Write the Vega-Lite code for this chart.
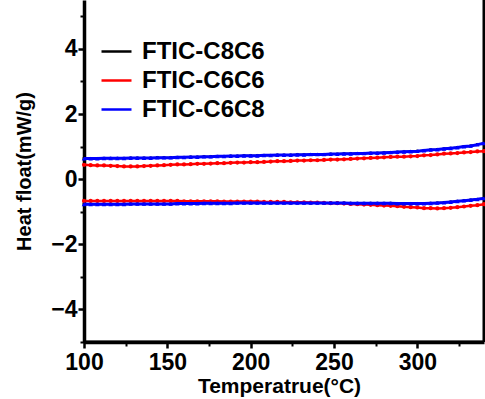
{
"$schema":"https://vega.github.io/schema/vega-lite/v6.json",
"width":400,"height":342,"autosize":"none",
"padding":{"left":84,"top":0,"right":1,"bottom":57},
"config":{"view":{"stroke":null},"axis":{"grid":false,"labelFlush":false,"domainColor":"black","domainWidth":3.5,"tickColor":"black","tickWidth":2.5,"tickSize":6,"labelFont":"Liberation Sans","labelFontWeight":"bold","labelFontSize":23,"labelColor":"black","titleFont":"Liberation Sans","titleFontWeight":"bold","titleFontSize":20,"titleColor":"black"}},
"resolve":{"axis":{"x":"independent","y":"independent"}},
"datasets":{"dsc":[
{"s":"FTIC-C8C6","x":100,"h":0.63,"c":-0.77},{"s":"FTIC-C8C6","x":104,"h":0.63,"c":-0.77},{"s":"FTIC-C8C6","x":108,"h":0.63,"c":-0.77},{"s":"FTIC-C8C6","x":112,"h":0.64,"c":-0.77},{"s":"FTIC-C8C6","x":116,"h":0.64,"c":-0.77},{"s":"FTIC-C8C6","x":120,"h":0.64,"c":-0.77},{"s":"FTIC-C8C6","x":124,"h":0.64,"c":-0.77},{"s":"FTIC-C8C6","x":128,"h":0.65,"c":-0.76},{"s":"FTIC-C8C6","x":132,"h":0.65,"c":-0.76},{"s":"FTIC-C8C6","x":136,"h":0.65,"c":-0.76},{"s":"FTIC-C8C6","x":140,"h":0.65,"c":-0.76},{"s":"FTIC-C8C6","x":144,"h":0.66,"c":-0.76},{"s":"FTIC-C8C6","x":148,"h":0.66,"c":-0.76},{"s":"FTIC-C8C6","x":152,"h":0.66,"c":-0.76},{"s":"FTIC-C8C6","x":156,"h":0.67,"c":-0.75},{"s":"FTIC-C8C6","x":160,"h":0.67,"c":-0.75},{"s":"FTIC-C8C6","x":164,"h":0.68,"c":-0.75},{"s":"FTIC-C8C6","x":168,"h":0.68,"c":-0.75},{"s":"FTIC-C8C6","x":172,"h":0.69,"c":-0.74},{"s":"FTIC-C8C6","x":176,"h":0.69,"c":-0.74},{"s":"FTIC-C8C6","x":180,"h":0.70,"c":-0.74},{"s":"FTIC-C8C6","x":184,"h":0.70,"c":-0.74},{"s":"FTIC-C8C6","x":188,"h":0.71,"c":-0.74},{"s":"FTIC-C8C6","x":192,"h":0.71,"c":-0.73},{"s":"FTIC-C8C6","x":196,"h":0.72,"c":-0.73},{"s":"FTIC-C8C6","x":200,"h":0.72,"c":-0.73},{"s":"FTIC-C8C6","x":204,"h":0.72,"c":-0.73},{"s":"FTIC-C8C6","x":208,"h":0.73,"c":-0.73},{"s":"FTIC-C8C6","x":212,"h":0.73,"c":-0.73},{"s":"FTIC-C8C6","x":216,"h":0.74,"c":-0.73},{"s":"FTIC-C8C6","x":220,"h":0.74,"c":-0.73},{"s":"FTIC-C8C6","x":224,"h":0.74,"c":-0.73},{"s":"FTIC-C8C6","x":228,"h":0.75,"c":-0.73},{"s":"FTIC-C8C6","x":232,"h":0.75,"c":-0.73},{"s":"FTIC-C8C6","x":236,"h":0.76,"c":-0.73},{"s":"FTIC-C8C6","x":240,"h":0.76,"c":-0.73},{"s":"FTIC-C8C6","x":244,"h":0.76,"c":-0.73},{"s":"FTIC-C8C6","x":248,"h":0.77,"c":-0.73},{"s":"FTIC-C8C6","x":252,"h":0.77,"c":-0.73},{"s":"FTIC-C8C6","x":256,"h":0.78,"c":-0.73},{"s":"FTIC-C8C6","x":260,"h":0.78,"c":-0.74},{"s":"FTIC-C8C6","x":264,"h":0.79,"c":-0.74},{"s":"FTIC-C8C6","x":268,"h":0.79,"c":-0.74},{"s":"FTIC-C8C6","x":272,"h":0.80,"c":-0.74},{"s":"FTIC-C8C6","x":276,"h":0.80,"c":-0.74},{"s":"FTIC-C8C6","x":280,"h":0.81,"c":-0.74},{"s":"FTIC-C8C6","x":284,"h":0.82,"c":-0.74},{"s":"FTIC-C8C6","x":288,"h":0.83,"c":-0.75},{"s":"FTIC-C8C6","x":292,"h":0.84,"c":-0.75},{"s":"FTIC-C8C6","x":296,"h":0.85,"c":-0.75},{"s":"FTIC-C8C6","x":300,"h":0.86,"c":-0.75},{"s":"FTIC-C8C6","x":304,"h":0.88,"c":-0.75},{"s":"FTIC-C8C6","x":308,"h":0.90,"c":-0.74},{"s":"FTIC-C8C6","x":312,"h":0.91,"c":-0.73},{"s":"FTIC-C8C6","x":316,"h":0.93,"c":-0.72},{"s":"FTIC-C8C6","x":320,"h":0.95,"c":-0.70},{"s":"FTIC-C8C6","x":324,"h":0.97,"c":-0.68},{"s":"FTIC-C8C6","x":328,"h":1.00,"c":-0.66},{"s":"FTIC-C8C6","x":332,"h":1.02,"c":-0.64},{"s":"FTIC-C8C6","x":336,"h":1.06,"c":-0.62},{"s":"FTIC-C8C6","x":340,"h":1.10,"c":-0.59},
{"s":"FTIC-C6C6","x":100,"h":0.44,"c":-0.67},{"s":"FTIC-C6C6","x":104,"h":0.43,"c":-0.67},{"s":"FTIC-C6C6","x":108,"h":0.42,"c":-0.67},{"s":"FTIC-C6C6","x":112,"h":0.42,"c":-0.67},{"s":"FTIC-C6C6","x":116,"h":0.41,"c":-0.67},{"s":"FTIC-C6C6","x":120,"h":0.40,"c":-0.67},{"s":"FTIC-C6C6","x":124,"h":0.39,"c":-0.67},{"s":"FTIC-C6C6","x":128,"h":0.39,"c":-0.67},{"s":"FTIC-C6C6","x":132,"h":0.39,"c":-0.67},{"s":"FTIC-C6C6","x":136,"h":0.40,"c":-0.67},{"s":"FTIC-C6C6","x":140,"h":0.41,"c":-0.67},{"s":"FTIC-C6C6","x":144,"h":0.42,"c":-0.67},{"s":"FTIC-C6C6","x":148,"h":0.43,"c":-0.67},{"s":"FTIC-C6C6","x":152,"h":0.44,"c":-0.67},{"s":"FTIC-C6C6","x":156,"h":0.45,"c":-0.67},{"s":"FTIC-C6C6","x":160,"h":0.45,"c":-0.68},{"s":"FTIC-C6C6","x":164,"h":0.46,"c":-0.68},{"s":"FTIC-C6C6","x":168,"h":0.47,"c":-0.68},{"s":"FTIC-C6C6","x":172,"h":0.47,"c":-0.68},{"s":"FTIC-C6C6","x":176,"h":0.48,"c":-0.68},{"s":"FTIC-C6C6","x":180,"h":0.49,"c":-0.68},{"s":"FTIC-C6C6","x":184,"h":0.49,"c":-0.69},{"s":"FTIC-C6C6","x":188,"h":0.50,"c":-0.69},{"s":"FTIC-C6C6","x":192,"h":0.51,"c":-0.69},{"s":"FTIC-C6C6","x":196,"h":0.51,"c":-0.69},{"s":"FTIC-C6C6","x":200,"h":0.52,"c":-0.69},{"s":"FTIC-C6C6","x":204,"h":0.52,"c":-0.69},{"s":"FTIC-C6C6","x":208,"h":0.53,"c":-0.70},{"s":"FTIC-C6C6","x":212,"h":0.54,"c":-0.70},{"s":"FTIC-C6C6","x":216,"h":0.55,"c":-0.70},{"s":"FTIC-C6C6","x":220,"h":0.55,"c":-0.70},{"s":"FTIC-C6C6","x":224,"h":0.56,"c":-0.71},{"s":"FTIC-C6C6","x":228,"h":0.57,"c":-0.71},{"s":"FTIC-C6C6","x":232,"h":0.57,"c":-0.71},{"s":"FTIC-C6C6","x":236,"h":0.58,"c":-0.72},{"s":"FTIC-C6C6","x":240,"h":0.58,"c":-0.72},{"s":"FTIC-C6C6","x":244,"h":0.59,"c":-0.73},{"s":"FTIC-C6C6","x":248,"h":0.60,"c":-0.74},{"s":"FTIC-C6C6","x":252,"h":0.60,"c":-0.74},{"s":"FTIC-C6C6","x":256,"h":0.61,"c":-0.75},{"s":"FTIC-C6C6","x":260,"h":0.62,"c":-0.76},{"s":"FTIC-C6C6","x":264,"h":0.63,"c":-0.77},{"s":"FTIC-C6C6","x":268,"h":0.64,"c":-0.78},{"s":"FTIC-C6C6","x":272,"h":0.65,"c":-0.79},{"s":"FTIC-C6C6","x":276,"h":0.66,"c":-0.80},{"s":"FTIC-C6C6","x":280,"h":0.67,"c":-0.81},{"s":"FTIC-C6C6","x":284,"h":0.68,"c":-0.82},{"s":"FTIC-C6C6","x":288,"h":0.69,"c":-0.83},{"s":"FTIC-C6C6","x":292,"h":0.69,"c":-0.85},{"s":"FTIC-C6C6","x":296,"h":0.70,"c":-0.86},{"s":"FTIC-C6C6","x":300,"h":0.71,"c":-0.87},{"s":"FTIC-C6C6","x":304,"h":0.73,"c":-0.89},{"s":"FTIC-C6C6","x":308,"h":0.74,"c":-0.89},{"s":"FTIC-C6C6","x":312,"h":0.76,"c":-0.90},{"s":"FTIC-C6C6","x":316,"h":0.78,"c":-0.89},{"s":"FTIC-C6C6","x":320,"h":0.79,"c":-0.88},{"s":"FTIC-C6C6","x":324,"h":0.80,"c":-0.86},{"s":"FTIC-C6C6","x":328,"h":0.82,"c":-0.84},{"s":"FTIC-C6C6","x":332,"h":0.83,"c":-0.82},{"s":"FTIC-C6C6","x":336,"h":0.85,"c":-0.80},{"s":"FTIC-C6C6","x":340,"h":0.86,"c":-0.77},
{"s":"FTIC-C6C8","x":100,"h":0.63,"c":-0.77},{"s":"FTIC-C6C8","x":104,"h":0.63,"c":-0.77},{"s":"FTIC-C6C8","x":108,"h":0.63,"c":-0.77},{"s":"FTIC-C6C8","x":112,"h":0.64,"c":-0.77},{"s":"FTIC-C6C8","x":116,"h":0.64,"c":-0.77},{"s":"FTIC-C6C8","x":120,"h":0.64,"c":-0.77},{"s":"FTIC-C6C8","x":124,"h":0.64,"c":-0.77},{"s":"FTIC-C6C8","x":128,"h":0.65,"c":-0.76},{"s":"FTIC-C6C8","x":132,"h":0.65,"c":-0.76},{"s":"FTIC-C6C8","x":136,"h":0.65,"c":-0.76},{"s":"FTIC-C6C8","x":140,"h":0.65,"c":-0.76},{"s":"FTIC-C6C8","x":144,"h":0.66,"c":-0.76},{"s":"FTIC-C6C8","x":148,"h":0.66,"c":-0.76},{"s":"FTIC-C6C8","x":152,"h":0.66,"c":-0.76},{"s":"FTIC-C6C8","x":156,"h":0.67,"c":-0.75},{"s":"FTIC-C6C8","x":160,"h":0.67,"c":-0.75},{"s":"FTIC-C6C8","x":164,"h":0.68,"c":-0.75},{"s":"FTIC-C6C8","x":168,"h":0.68,"c":-0.75},{"s":"FTIC-C6C8","x":172,"h":0.69,"c":-0.74},{"s":"FTIC-C6C8","x":176,"h":0.69,"c":-0.74},{"s":"FTIC-C6C8","x":180,"h":0.70,"c":-0.74},{"s":"FTIC-C6C8","x":184,"h":0.70,"c":-0.74},{"s":"FTIC-C6C8","x":188,"h":0.71,"c":-0.74},{"s":"FTIC-C6C8","x":192,"h":0.71,"c":-0.73},{"s":"FTIC-C6C8","x":196,"h":0.72,"c":-0.73},{"s":"FTIC-C6C8","x":200,"h":0.72,"c":-0.73},{"s":"FTIC-C6C8","x":204,"h":0.72,"c":-0.73},{"s":"FTIC-C6C8","x":208,"h":0.73,"c":-0.73},{"s":"FTIC-C6C8","x":212,"h":0.73,"c":-0.73},{"s":"FTIC-C6C8","x":216,"h":0.74,"c":-0.73},{"s":"FTIC-C6C8","x":220,"h":0.74,"c":-0.73},{"s":"FTIC-C6C8","x":224,"h":0.74,"c":-0.73},{"s":"FTIC-C6C8","x":228,"h":0.75,"c":-0.73},{"s":"FTIC-C6C8","x":232,"h":0.75,"c":-0.73},{"s":"FTIC-C6C8","x":236,"h":0.76,"c":-0.73},{"s":"FTIC-C6C8","x":240,"h":0.76,"c":-0.73},{"s":"FTIC-C6C8","x":244,"h":0.76,"c":-0.73},{"s":"FTIC-C6C8","x":248,"h":0.77,"c":-0.73},{"s":"FTIC-C6C8","x":252,"h":0.77,"c":-0.73},{"s":"FTIC-C6C8","x":256,"h":0.78,"c":-0.73},{"s":"FTIC-C6C8","x":260,"h":0.78,"c":-0.74},{"s":"FTIC-C6C8","x":264,"h":0.79,"c":-0.74},{"s":"FTIC-C6C8","x":268,"h":0.79,"c":-0.74},{"s":"FTIC-C6C8","x":272,"h":0.80,"c":-0.74},{"s":"FTIC-C6C8","x":276,"h":0.80,"c":-0.74},{"s":"FTIC-C6C8","x":280,"h":0.81,"c":-0.74},{"s":"FTIC-C6C8","x":284,"h":0.82,"c":-0.74},{"s":"FTIC-C6C8","x":288,"h":0.83,"c":-0.75},{"s":"FTIC-C6C8","x":292,"h":0.84,"c":-0.75},{"s":"FTIC-C6C8","x":296,"h":0.85,"c":-0.75},{"s":"FTIC-C6C8","x":300,"h":0.86,"c":-0.75},{"s":"FTIC-C6C8","x":304,"h":0.88,"c":-0.75},{"s":"FTIC-C6C8","x":308,"h":0.90,"c":-0.74},{"s":"FTIC-C6C8","x":312,"h":0.91,"c":-0.73},{"s":"FTIC-C6C8","x":316,"h":0.93,"c":-0.72},{"s":"FTIC-C6C8","x":320,"h":0.95,"c":-0.70},{"s":"FTIC-C6C8","x":324,"h":0.97,"c":-0.68},{"s":"FTIC-C6C8","x":328,"h":1.00,"c":-0.66},{"s":"FTIC-C6C8","x":332,"h":1.02,"c":-0.64},{"s":"FTIC-C6C8","x":336,"h":1.06,"c":-0.62},{"s":"FTIC-C6C8","x":340,"h":1.10,"c":-0.59}
]},
"layer":[
{"data":{"values":[{"v":340}]},"mark":{"type":"rule","color":"black","strokeWidth":3},
 "encoding":{"x":{"field":"v","type":"quantitative","scale":{"domain":[100,340],"nice":false,"zero":false},"axis":{"orient":"bottom","values":[125,175,225,275,325],"labels":false,"domain":false,"tickSize":4,"tickWidth":2,"title":null}}}},
{"data":{"values":[{"w":-5}]},"mark":{"type":"rule","color":"black","strokeWidth":3},
 "encoding":{"y":{"field":"w","type":"quantitative","scale":{"domain":[-5,5.5],"nice":false,"zero":false},"axis":{"orient":"left","values":[-5,-3,-1,1,3,5],"labels":false,"domain":false,"tickSize":4,"tickWidth":2,"title":null}}}},
{"data":{"name":"dsc"},
"transform":[{"filter":{"field":"s","equal":"FTIC-C8C6"}},{"fold":["h","c"],"as":["loop","y"]}],
"mark":{"type":"line","strokeWidth":2,"point":{"filled":true,"size":8,"shape":"square"}},
"encoding":{
 "x":{"field":"x","type":"quantitative","scale":{"domain":[100,340],"nice":false,"zero":false},"axis":{"orient":"bottom","values":[100,150,200,250,300],"labelPadding":3,"titlePadding":1,"titleX":195,"title":"Temperatrue(°C)","titleFontSize":21}},
 "y":{"field":"y","type":"quantitative","scale":{"domain":[-5,5.5],"nice":false,"zero":false},"axis":{"orient":"left","values":[-4,-2,0,2,4],"labelPadding":1,"titlePadding":16,"title":"Heat float(mW/g)"}},
 "color":{"field":"s","type":"nominal","scale":{"domain":["FTIC-C8C6","FTIC-C6C6","FTIC-C6C8"],"range":["#000000","#ff0000","#0000ff"]},
   "legend":{"title":null,"orient":"none","legendX":16,"legendY":35,"symbolType":"stroke","symbolSize":900,"symbolStrokeWidth":2.5,"labelFont":"Liberation Sans","labelFontWeight":"bold","labelFontSize":24,"labelColor":"black","labelOffset":9,"rowPadding":0}},
 "detail":{"field":"loop"},
 "order":{"field":"x","type":"quantitative"}
}},
{"data":{"name":"dsc"},
"transform":[{"filter":{"field":"s","equal":"FTIC-C6C6"}},{"fold":["h","c"],"as":["loop","y"]}],
"mark":{"type":"line","strokeWidth":2.5,"point":{"filled":true,"size":18,"shape":"circle"}},
"encoding":{
 "x":{"field":"x","type":"quantitative","scale":{"domain":[100,340],"nice":false,"zero":false},"axis":null},
 "y":{"field":"y","type":"quantitative","scale":{"domain":[-5,5.5],"nice":false,"zero":false},"axis":null},
 "color":{"field":"s","type":"nominal","scale":{"domain":["FTIC-C8C6","FTIC-C6C6","FTIC-C6C8"],"range":["#000000","#ff0000","#0000ff"]},"legend":{"symbolType":"stroke"}},
 "detail":{"field":"loop"},
 "order":{"field":"x","type":"quantitative"}
}},
{"data":{"name":"dsc"},
"transform":[{"filter":{"field":"s","equal":"FTIC-C6C8"}},{"fold":["h","c"],"as":["loop","y"]}],
"mark":{"type":"line","strokeWidth":3,"point":{"filled":true,"size":20,"shape":"triangle-up"}},
"encoding":{
 "x":{"field":"x","type":"quantitative","scale":{"domain":[100,340],"nice":false,"zero":false},"axis":null},
 "y":{"field":"y","type":"quantitative","scale":{"domain":[-5,5.5],"nice":false,"zero":false},"axis":null},
 "color":{"field":"s","type":"nominal","scale":{"domain":["FTIC-C8C6","FTIC-C6C6","FTIC-C6C8"],"range":["#000000","#ff0000","#0000ff"]},"legend":{"symbolType":"stroke"}},
 "detail":{"field":"loop"},
 "order":{"field":"x","type":"quantitative"}
}}
]
}
